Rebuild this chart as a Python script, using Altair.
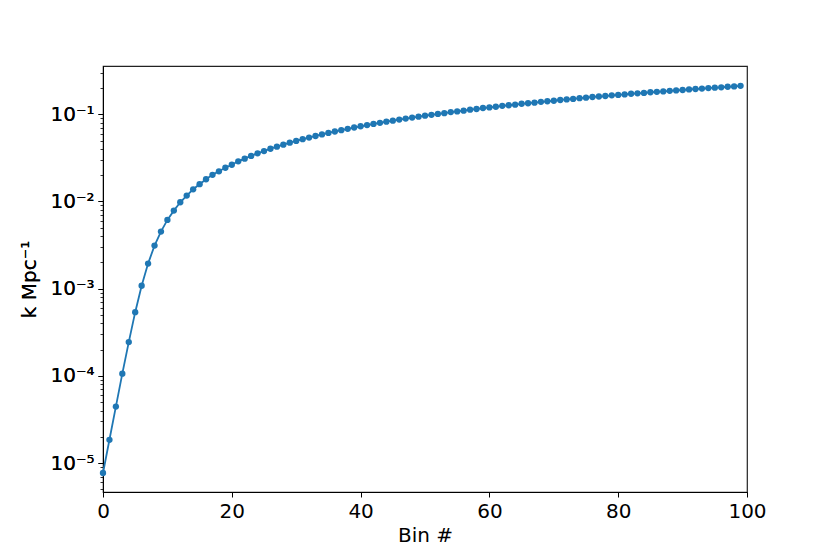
import altair as alt
import pandas as pd

bins = list(range(100))
k_values = [
    7.7e-6, 1.85e-5, 4.45e-5, 1.06e-4, 2.44e-4, 5.38e-4, 1.08e-3, 1.94e-3, 3.12e-3, 4.52e-3,
    6.15e-3, 7.86e-3, 9.8e-3, 0.0117, 0.0138, 0.0158, 0.0180, 0.0202, 0.0222, 0.0244,
    0.0264, 0.0289, 0.0310, 0.0333, 0.0357, 0.0379, 0.0403, 0.0425, 0.0448, 0.0473,
    0.0495, 0.0518, 0.0541, 0.0564, 0.0588, 0.0611, 0.0635, 0.0658, 0.0682, 0.0705,
    0.0729, 0.0752, 0.0776, 0.0799, 0.0823, 0.0846, 0.0870, 0.0893, 0.0917, 0.0940,
    0.0964, 0.0987, 0.101, 0.103, 0.106, 0.108, 0.110, 0.113, 0.115, 0.118,
    0.120, 0.122, 0.125, 0.127, 0.129, 0.132, 0.134, 0.136, 0.139, 0.141,
    0.143, 0.146, 0.148, 0.150, 0.153, 0.155, 0.158, 0.160, 0.162, 0.165,
    0.167, 0.169, 0.172, 0.174, 0.176, 0.179, 0.181, 0.183, 0.186, 0.188,
    0.190, 0.193, 0.195, 0.197, 0.200, 0.202, 0.204, 0.207, 0.209, 0.212,
]

x_ticks = [0, 20, 40, 60, 80, 100]
y_major_ticks = [1e-5, 1e-4, 1e-3, 1e-2, 1e-1]
y_major_labels = ["10⁻⁵", "10⁻⁴", "10⁻³", "10⁻²", "10⁻¹"]
y_minor_ticks = [m * 10.0 ** e for e in range(-6, 0) for m in range(2, 10)]
y_minor_ticks = [v for v in y_minor_ticks if 4.66e-6 <= v <= 0.358]

df = pd.DataFrame({"bin": bins, "k": k_values})

label_expr = "[" + ",".join("'%s'" % s for s in y_major_labels) + "][round(log(datum.value)/LN10) + 5]"

FONT = "DejaVu Sans"
BLUE = "#1f77b4"

x_enc = alt.X(
    "bin:Q",
    scale=alt.Scale(domain=[0, 100], nice=False, zero=False),
    axis=alt.Axis(
        values=x_ticks, title="Bin #", grid=False, tickSize=5, tickColor="black",
        domainColor="black", labelFontSize=20, labelFont=FONT, labelColor="black",
        titleFontSize=20, titleFont=FONT, titleFontWeight="normal", titleColor="black",
        labelPadding=4, titlePadding=4, labelFlush=False,
    ),
)
y_scale = alt.Scale(type="log", domain=[4.66e-6, 0.358], nice=False)

y_major = alt.Y(
    "k:Q",
    scale=y_scale,
    axis=alt.Axis(
        orient="left", values=y_major_ticks, labelExpr=label_expr, title="k Mpc⁻¹",
        grid=False, tickSize=5, tickColor="black", domainColor="black",
        labelFontSize=20, labelFont=FONT, labelColor="black",
        titleFontSize=20, titleFont=FONT, titleFontWeight="normal", titleColor="black",
        labelPadding=4, titlePadding=10,
    ),
)
y_minor = alt.Y(
    "k:Q",
    scale=y_scale,
    axis=alt.Axis(
        orient="left", values=y_minor_ticks, labels=False, title=None, grid=False,
        tickSize=3, tickWidth=0.8, tickColor="black", domain=False,
    ),
)

line = alt.Chart(df).mark_line(color=BLUE, strokeWidth=1.8).encode(x=x_enc, y=y_major)
pts = alt.Chart(df).mark_circle(color=BLUE, size=40, opacity=1).encode(x=x_enc, y=y_major)
minor = alt.Chart(df).mark_circle(opacity=0).encode(x=x_enc, y=y_minor)

chart = (
    alt.layer(line, pts, minor)
    .resolve_axis(y="independent")
    .resolve_scale(y="shared")
    .properties(
        width=644, height=426,
        autosize=alt.AutoSizeParams(type="none"),
        padding={"left": 95, "top": 58, "right": 75, "bottom": 62},
        background="white",
    )
    .configure_view(stroke="#222222", strokeWidth=1.2)
)

chart.save("out.html", embed_options={"renderer": "svg", "actions": False})
